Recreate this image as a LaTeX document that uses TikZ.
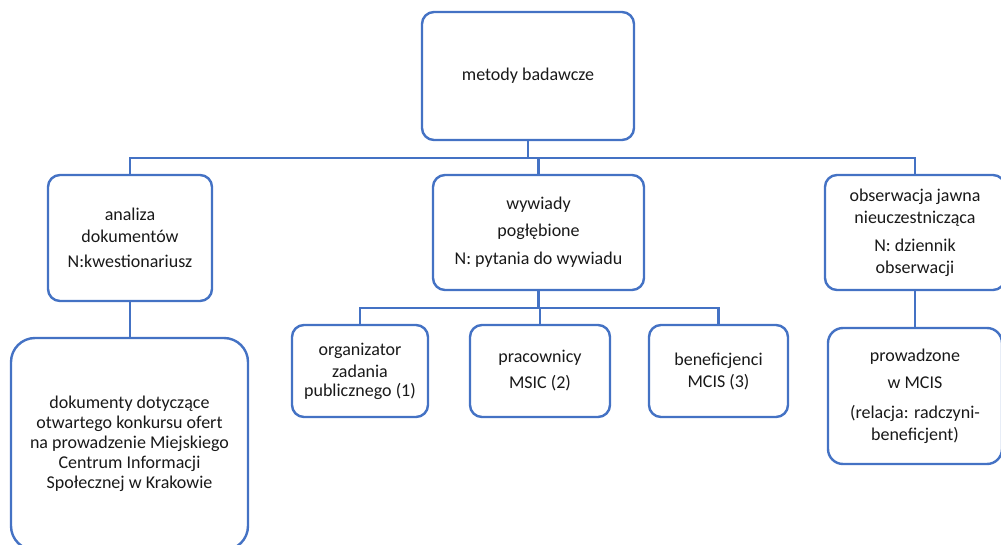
\documentclass[tikz,border=0pt]{standalone}
\usepackage{fontspec}
\setmainfont{Carlito}
\definecolor{boxblue}{RGB}{68,114,196}
\definecolor{txt}{RGB}{25,25,25}
\tikzset{
  box/.style={draw=boxblue, line width=2.4pt, rounded corners=12pt, fill=white,
    align=center, inner sep=0pt, text=txt,
    font=\fontsize{18}{22}\selectfont},
  link/.style={draw=boxblue, line width=2.4pt}
}
\begin{document}
\begin{tikzpicture}[x=1pt,y=-1pt]
\useasboundingbox (0,0) rectangle (1001,545);
% level 1
\node[box, minimum width=212pt, minimum height=128pt] (top) at (528,76) {metody badawcze};
% level 2
\node[box, minimum width=164pt, minimum height=126pt] (ana) at (130,238)
  {analiza\\dokumentów\\[3pt]N:kwestionariusz};
\node[box, minimum width=211pt, minimum height=115pt] (wyw) at (538.5,232.5)
  {wywiady\\[5pt]pogłębione\\[6pt]N: pytania do wywiadu};
\node[box, minimum width=180pt, minimum height=115pt] (obs) at (915,232.5)
  {obserwacja jawna\\nieuczestnicząca\\[6pt]N: dziennik\\obserwacji};
% level 3
\node[box, rounded corners=24pt, minimum width=237pt, minimum height=212pt] (doc) at (129.5,444)
  {dokumenty dotyczące\\[-2pt]otwartego konkursu ofert\\[-2pt]na prowadzenie Miejskiego\\[-2pt]Centrum Informacji\\[-2pt]Społecznej w Krakowie};
\node[box, minimum width=136pt, minimum height=92pt] (org) at (360,371)
  {organizator\\zadania\\[-3pt]publicznego (1)};
\node[box, minimum width=140pt, minimum height=92pt] (pra) at (540,371)
  {pracownicy\\[4pt]MSIC (2)};
\node[box, minimum width=139pt, minimum height=92pt] (ben) at (718.5,371)
  {beneficjenci\\MCIS (3)};
\node[box, rounded corners=15pt, minimum width=174pt, minimum height=136pt] (pro) at (915,396)
  {prowadzone\\[5pt]w MCIS\\[8pt](relacja: radczyni-\\beneficjent)};
% connectors
\coordinate (bus1) at (528,158);
\coordinate (bus2) at (538.5,308);
\draw[link] (top.south) -- (bus1);
\draw[link] (bus1) -| (ana.north);
\draw[link] (bus1) -| (wyw.north);
\draw[link] (bus1) -| (obs.north);
\draw[link] (ana.south) -- (ana.south |- doc.north);
\draw[link] (wyw.south) -- (bus2);
\draw[link] (bus2) -| (org.north);
\draw[link] (bus2) -| (pra.north);
\draw[link] (bus2) -| (ben.north);
\draw[link] (obs.south) -- (pro.north);
\end{tikzpicture}
\end{document}
